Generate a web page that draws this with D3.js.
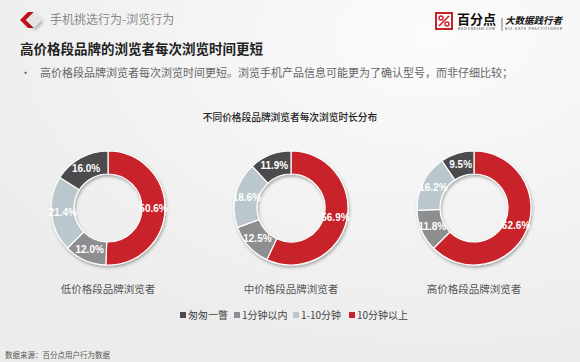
<!DOCTYPE html>
<html>
<head>
<meta charset="utf-8">
<script src="https://cdn.jsdelivr.net/npm/d3@7/dist/d3.min.js"></script>
<style>
  html, body { margin: 0; padding: 0; }
  body { width: 580px; height: 362px; overflow: hidden; font-family: "Noto Sans CJK SC", "Noto Sans", sans-serif; }
</style>
</head>
<body>
<svg id="chart" width="580" height="362" viewBox="0 0 580 362" xmlns="http://www.w3.org/2000/svg"></svg>
<script>
  // legend order
  const categories = ['匆匆一瞥', '1分钟以内', '1-10分钟', '10分钟以上'];
  const colors = ['#4b4b4d', '#8d8e90', '#bac7cc', '#c8222b'];
  // order the slices go round the ring, clockwise from 12 o'clock
  const sliceOrder = ['10分钟以上', '1分钟以内', '1-10分钟', '匆匆一瞥'];

  const groups = ['低价格段品牌浏览者', '中价格段品牌浏览者', '高价格段品牌浏览者'];
  // values per group, in legend order
  const glance = [16.0, 11.9, 9.5];
  const under1 = [12.0, 12.5, 11.8];
  const oneTo10 = [21.4, 18.6, 16.2];
  const over10 = [50.6, 56.9, 62.6];

  const svg = d3.select('#chart');
  const W = 580, H = 362;

  // background
  const defs = svg.append('defs');
  const bg = defs.append('radialGradient').attr('id', 'bg')
      .attr('cx', '0.75').attr('cy', '0.1').attr('r', '0.9');
  bg.append('stop').attr('offset', '0%').attr('stop-color', '#fbfbfb');
  bg.append('stop').attr('offset', '100%').attr('stop-color', '#ececec');
  const shadow = defs.append('filter').attr('id', 'shadow')
      .attr('x', '-20%').attr('y', '-20%').attr('width', '140%').attr('height', '140%');
  shadow.append('feDropShadow').attr('dx', 1).attr('dy', 2).attr('stdDeviation', 1.5)
      .attr('flood-color', '#000').attr('flood-opacity', 0.3);

  svg.append('rect').attr('width', W).attr('height', H).attr('fill', 'url(#bg)');

  // header icon
  const icon = svg.append('g').attr('transform', 'translate(18,12)');
  icon.append('path').attr('d', 'M10,0 L16,0 L8,8 L16,16 L10,16 L2,8 Z').attr('fill', '#c1121c');
  icon.append('path').attr('d', 'M16,0 L24,8 L16,16 L8,8 Z').attr('fill', '#e4e4e4')
      .attr('filter', 'url(#shadow)');

  svg.append('text').attr('x', 50).attr('y', 24).attr('font-size', 12).attr('fill', '#8a8a8a')
      .text('手机挑选行为-浏览行为');
  svg.append('text').attr('x', 20).attr('y', 54).attr('font-size', 13.5).attr('font-weight', 'bold')
      .attr('fill', '#222').text('高价格段品牌的浏览者每次浏览时间更短');
  svg.append('text').attr('x', 20).attr('y', 77).attr('font-size', 11).attr('fill', '#666').text('•');
  svg.append('text').attr('x', 40).attr('y', 77).attr('font-size', 11).attr('fill', '#666')
      .text('高价格段品牌浏览者每次浏览时间更短。浏览手机产品信息可能更为了确认型号，而非仔细比较；');

  // logo
  const logo = svg.append('g').attr('transform', 'translate(435,12)');
  logo.append('rect').attr('x', 1).attr('y', 1).attr('width', 16).attr('height', 16)
      .attr('fill', 'none').attr('stroke', '#c8222b').attr('stroke-width', 2);
  logo.append('line').attr('x1', 4).attr('y1', 14).attr('x2', 14).attr('y2', 4)
      .attr('stroke', '#c8222b').attr('stroke-width', 1.6);
  logo.append('circle').attr('cx', 6).attr('cy', 6).attr('r', 2)
      .attr('fill', 'none').attr('stroke', '#c8222b').attr('stroke-width', 1.4);
  logo.append('circle').attr('cx', 12).attr('cy', 12).attr('r', 2)
      .attr('fill', 'none').attr('stroke', '#c8222b').attr('stroke-width', 1.4);
  logo.append('text').attr('x', 22).attr('y', 11.5).attr('font-size', 13).attr('font-weight', 'bold')
      .attr('fill', '#111').text('百分点');
  logo.append('text').attr('x', 23).attr('y', 18).attr('font-size', 3.6).attr('fill', '#333')
      .attr('textLength', 37).text('BAIFENDIAN.COM');
  logo.append('line').attr('x1', 67).attr('x2', 67).attr('y1', 6).attr('y2', 19).attr('stroke', '#777');
  logo.append('text').attr('x', 70).attr('y', 12).attr('font-size', 9.5).attr('font-style', 'italic')
      .attr('font-weight', 'bold').attr('fill', '#111').text('大数据践行者');
  logo.append('text').attr('x', 70).attr('y', 18).attr('font-size', 3.4).attr('fill', '#333')
      .attr('textLength', 57).text('BIG DATA PRACTITIONER');

  // chart title
  svg.append('text').attr('x', 290).attr('y', 121).attr('text-anchor', 'middle').attr('font-size', 9.7)
      .attr('font-weight', 500).attr('fill', '#222').text('不同价格段品牌浏览者每次浏览时长分布');

  const color = d3.scaleOrdinal().domain(categories).range(colors);
  const x = d3.scalePoint().domain(groups).range([108, 474]);
  const cy = 208;
  const outer = 57, inner = 34;

  const arc = d3.arc().innerRadius(inner).outerRadius(outer);
  const pie = d3.pie().sort(null).value(d => d.value);
  const seriesByCat = { '匆匆一瞥': glance, '1分钟以内': under1, '1-10分钟': oneTo10, '10分钟以上': over10 };

  groups.forEach((g, i) => {
    const data = sliceOrder.map(c => ({ cat: c, value: seriesByCat[c][i] }));
    const donut = svg.append('g').attr('transform', `translate(${x(g)},${cy})`);
    const ring = donut.append('g').attr('filter', 'url(#shadow)');
    ring.selectAll('path').data(pie(data)).join('path')
        .attr('d', arc)
        .attr('fill', d => color(d.data.cat))
        .attr('stroke', '#fff').attr('stroke-width', 1.2);
    donut.selectAll('text.val').data(pie(data)).join('text')
        .attr('class', 'val')
        .attr('transform', d => `translate(${arc.centroid(d)})`)
        .attr('text-anchor', 'middle').attr('dy', '0.35em')
        .attr('font-family', 'Arial, "Liberation Sans", sans-serif')
        .attr('font-size', 10).attr('font-weight', 'bold').attr('fill', '#fff')
        .text(d => d.data.value.toFixed(1) + '%');
    svg.append('text').attr('x', x(g)).attr('y', 293).attr('text-anchor', 'middle')
        .attr('font-size', 10.5).attr('fill', '#555').text(g);
  });

  // legend
  const legendX = [180, 234, 293, 349];
  const legend = svg.append('g');
  categories.forEach((c, i) => {
    legend.append('rect').attr('x', legendX[i]).attr('y', 312).attr('width', 6).attr('height', 6)
        .attr('fill', color(c));
    legend.append('text').attr('x', legendX[i] + 8).attr('y', 319).attr('font-size', 10)
        .attr('fill', '#444').text(c);
  });

  svg.append('text').attr('x', 5).attr('y', 358).attr('font-size', 7.5).attr('fill', '#555')
      .text('数据来源：百分点用户行为数据');
</script>
</body>
</html>
